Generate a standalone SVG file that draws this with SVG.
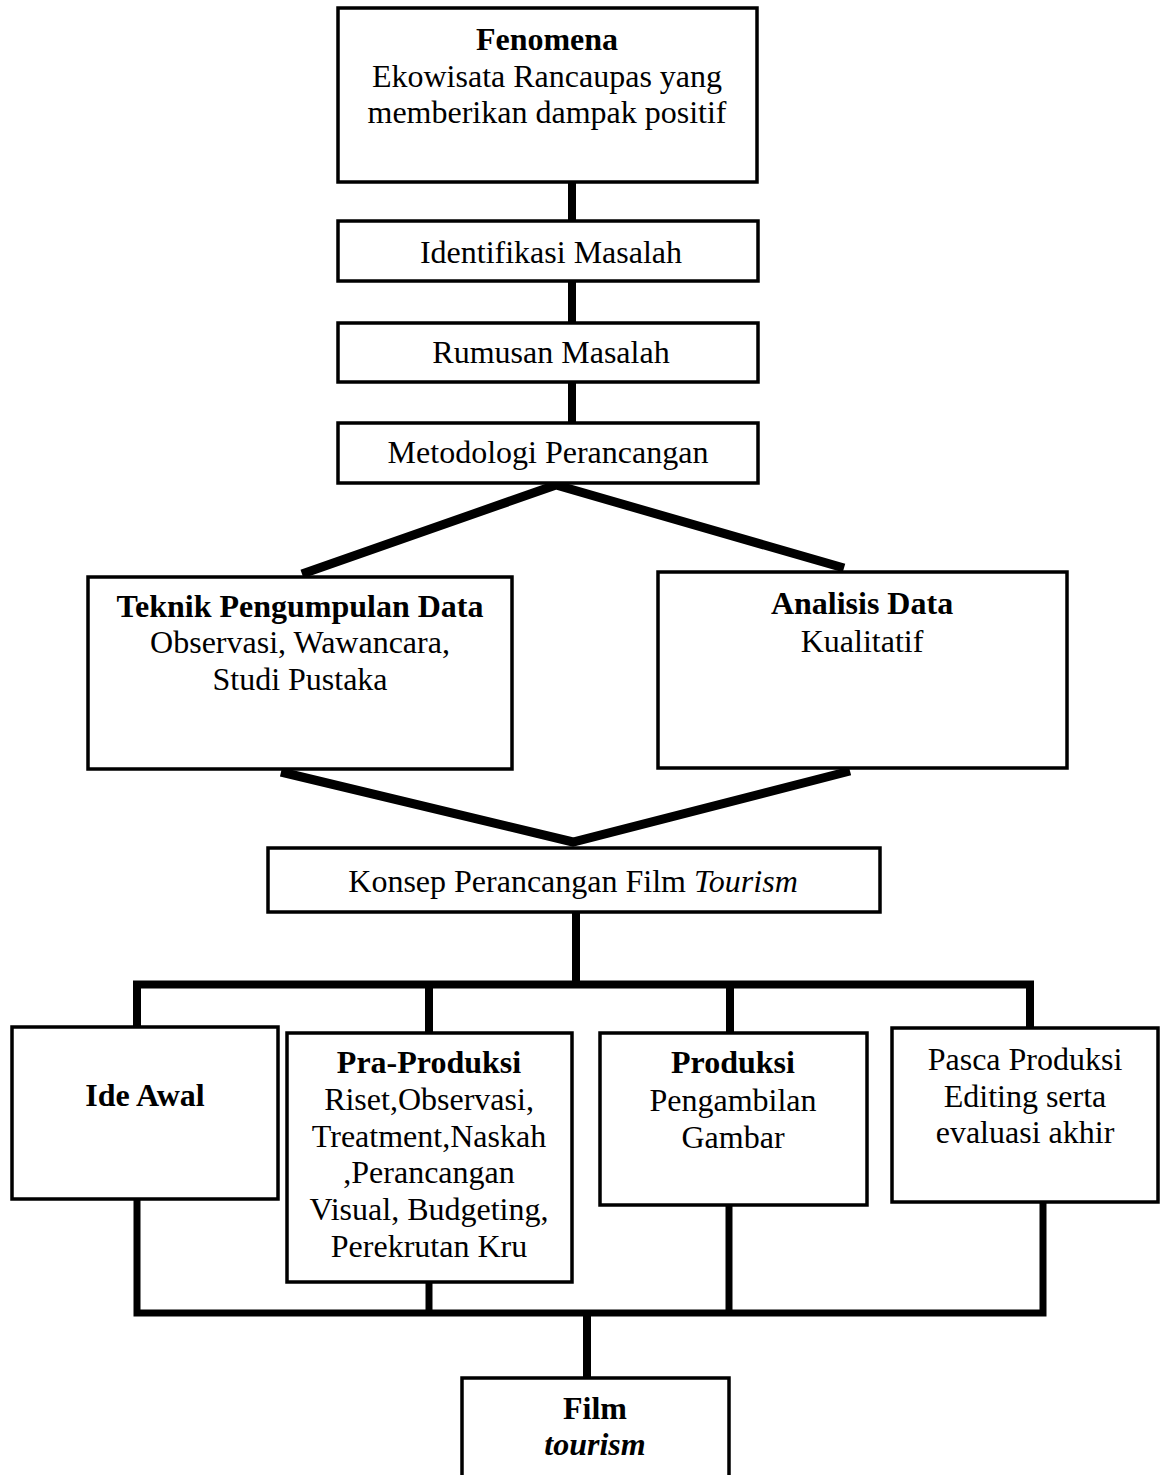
<svg xmlns="http://www.w3.org/2000/svg" width="1165" height="1475" viewBox="0 0 1165 1475">
<style>
.box{fill:#fff;stroke:#000;stroke-width:3.5}
.t{font-family:"Liberation Serif","Times New Roman",serif;font-size:32px;fill:#000;text-anchor:middle}
.b{font-weight:bold}
.i{font-style:italic}
.c{fill:none;stroke:#000;stroke-linejoin:miter;stroke-linecap:butt}
</style>
<rect width="1165" height="1475" fill="#fff"/>
<g id="connectors">
<line class="c" stroke-width="8" x1="572" y1="182" x2="572" y2="221"/>
<line class="c" stroke-width="8" x1="572" y1="281" x2="572" y2="323"/>
<line class="c" stroke-width="8" x1="572" y1="382" x2="572" y2="423"/>
<path class="c" stroke-width="9" d="M302,574 L556,485 L844,568"/>
<path class="c" stroke-width="9" d="M281,772 L573,842 L850,771"/>
<line class="c" stroke-width="8" x1="576" y1="912" x2="576" y2="984"/>
<path class="c" stroke-width="8" d="M137,1027 V984.5 H1030 V1028"/>
<line class="c" stroke-width="8" x1="429" y1="984" x2="429" y2="1033"/>
<line class="c" stroke-width="8" x1="730" y1="984" x2="730" y2="1033"/>
<path class="c" stroke-width="7" d="M137,1199 V1313 H1043 V1202"/>
<line class="c" stroke-width="7" x1="429" y1="1282" x2="429" y2="1313"/>
<line class="c" stroke-width="7" x1="729" y1="1205" x2="729" y2="1313"/>
<line class="c" stroke-width="8" x1="587" y1="1313" x2="587" y2="1378"/>
</g>
<g id="fenomena">
<rect class="box" x="338" y="8" width="419" height="174"/>
<text class="t b" x="547" y="50">Fenomena</text>
<text class="t" x="547" y="87">Ekowisata Rancaupas yang</text>
<text class="t" x="547" y="123">memberikan dampak positif</text>
</g>
<g id="identifikasi">
<rect class="box" x="338" y="221" width="420" height="60"/>
<text class="t" x="551" y="263">Identifikasi Masalah</text>
</g>
<g id="rumusan">
<rect class="box" x="338" y="323" width="420" height="59"/>
<text class="t" x="551" y="363">Rumusan Masalah</text>
</g>
<g id="metodologi">
<rect class="box" x="338" y="423" width="420" height="60"/>
<text class="t" x="548" y="463">Metodologi Perancangan</text>
</g>
<g id="teknik">
<rect class="box" x="88" y="577" width="424" height="192"/>
<text class="t b" x="300" y="617">Teknik Pengumpulan Data</text>
<text class="t" x="300" y="653">Observasi, Wawancara,</text>
<text class="t" x="300" y="690">Studi Pustaka</text>
</g>
<g id="analisis">
<rect class="box" x="658" y="572" width="409" height="196"/>
<text class="t b" x="862" y="614">Analisis Data</text>
<text class="t" x="862" y="652">Kualitatif</text>
</g>
<g id="konsep">
<rect class="box" x="268" y="848" width="612" height="64"/>
<text class="t" x="573" y="892">Konsep Perancangan Film <tspan class="i">Tourism</tspan></text>
</g>
<g id="ide-awal">
<rect class="box" x="12" y="1027" width="266" height="172"/>
<text class="t b" x="145" y="1106">Ide Awal</text>
</g>
<g id="pra-produksi">
<rect class="box" x="287" y="1033" width="285" height="249"/>
<text class="t b" x="429" y="1073">Pra-Produksi</text>
<text class="t" x="429" y="1110">Riset,Observasi,</text>
<text class="t" x="429" y="1147">Treatment,Naskah</text>
<text class="t" x="429" y="1183">,Perancangan</text>
<text class="t" x="429" y="1220">Visual, Budgeting,</text>
<text class="t" x="429" y="1257">Perekrutan Kru</text>
</g>
<g id="produksi">
<rect class="box" x="600" y="1033" width="267" height="172"/>
<text class="t b" x="733" y="1073">Produksi</text>
<text class="t" x="733" y="1111">Pengambilan</text>
<text class="t" x="733" y="1148">Gambar</text>
</g>
<g id="pasca-produksi">
<rect class="box" x="892" y="1028" width="266" height="174"/>
<text class="t" x="1025" y="1070">Pasca Produksi</text>
<text class="t" x="1025" y="1107">Editing serta</text>
<text class="t" x="1025" y="1143">evaluasi akhir</text>
</g>
<g id="film">
<rect class="box" x="462" y="1378" width="267" height="120"/>
<text class="t b" x="595" y="1419">Film</text>
<text class="t b i" x="595" y="1455">tourism</text>
</g>
</svg>
